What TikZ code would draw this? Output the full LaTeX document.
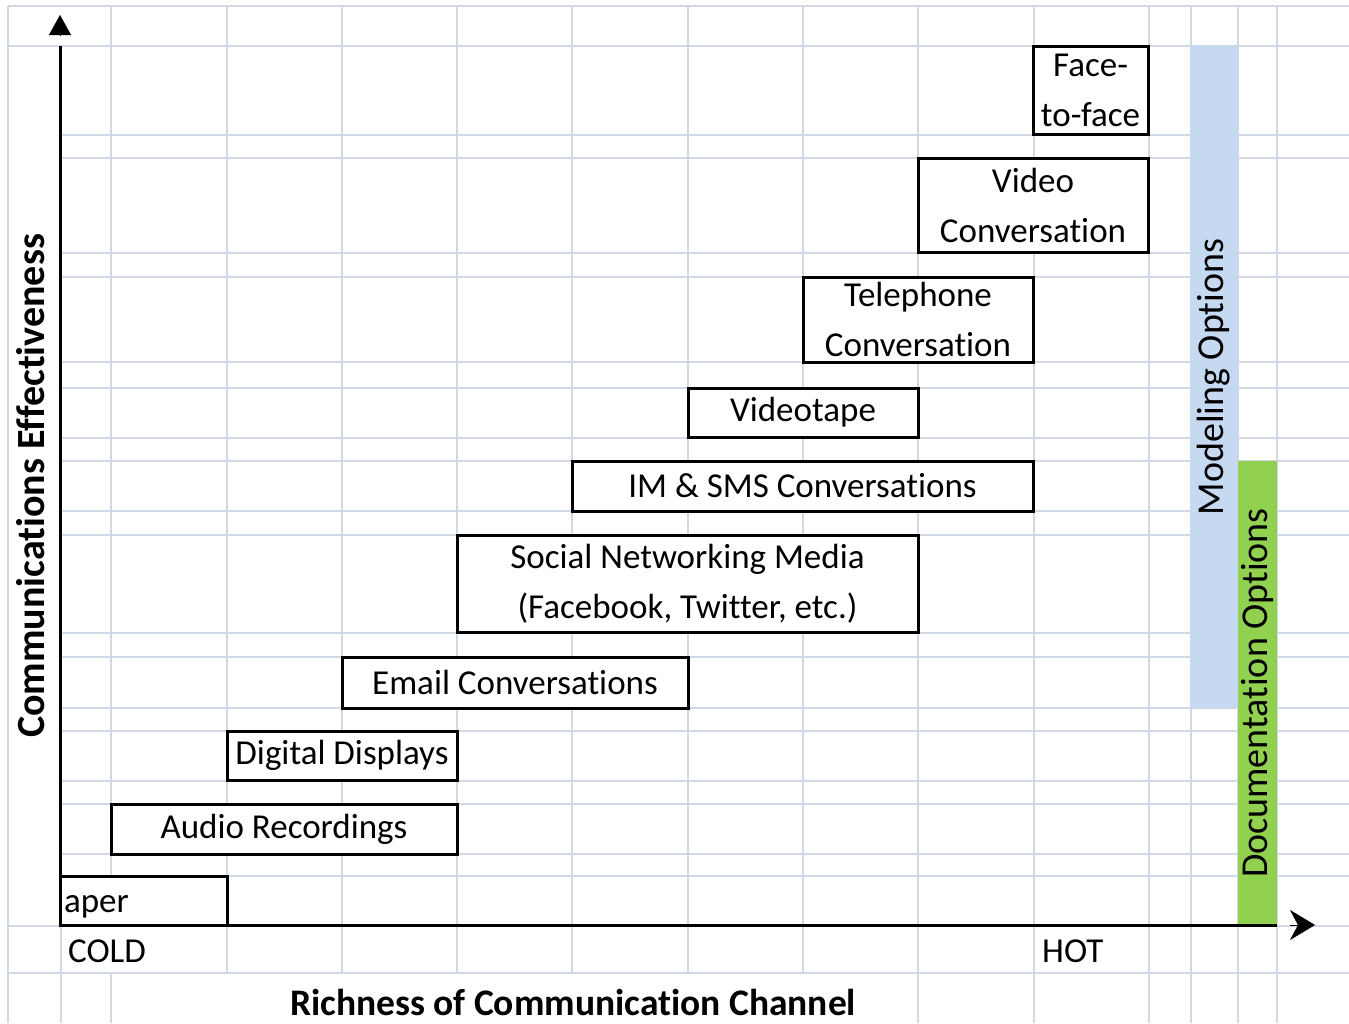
\documentclass[tikz,border=0pt]{standalone}
\usepackage{fontspec}
\setmainfont[Ligatures=NoCommon]{Carlito}
\usepackage{tikz}
\usetikzlibrary{arrows.meta}
\definecolor{gridgray}{HTML}{D0D7E5}
\definecolor{modelblue}{HTML}{C5D9F1}
\definecolor{docgreen}{HTML}{92D050}

\begin{document}
\begin{tikzpicture}[x=1pt,y=-1pt,
	cell/.style={gridgray,line width=1.5pt},
	box/.style={draw,line width=3pt,fill=white,inner sep=0pt,align=center,font=\fontsize{35}{50}\selectfont},
	lbl/.style={inner sep=0pt,font=\fontsize{35}{42}\selectfont},
	side/.style={rotate=90,inner sep=0pt,font=\fontsize{38}{44}\selectfont}]
	\useasboundingbox (0,0) rectangle (1349,1023);
	
	\draw[cell] (8,6) -- (1349,6) (8,46) -- (1349,46) (8,926) -- (1349,926) (8,973) -- (1349,973);
	\foreach \y in {135,158,253,277,362,388,438,461,511,535,633,657,708,731,781,804,854,876}
		\draw[cell] (61,\y) -- (1349,\y);
	\draw[cell] (8,6) -- (8,1023) (61,46) -- (61,1023) (111,6) -- (111,926) (111,973) -- (111,1023);
	\foreach \x in {227,342,457,572,688,803}
		\draw[cell] (\x,6) -- (\x,973);
	\foreach \x in {918,1034,1149,1191,1238,1277}
		\draw[cell] (\x,6) -- (\x,1023);
	
	\node[side,fill=modelblue,minimum width=662pt,minimum height=48pt] (m) at (1214,377) {Modeling Options};
	\node[side,fill=docgreen,minimum width=464pt,minimum height=39pt] (d) at (1257.5,693) {Documentation Options};
	
	\node[box,minimum width=167pt,minimum height=49pt,text width=159pt,align=left,text height=35pt,text depth=12pt] (0) at (143.5,900.5) {aper};
	\node[box,minimum width=346pt,minimum height=50pt] (1) at (284,829) {Audio Recordings};
	\node[box,minimum width=230pt,minimum height=49pt] (2) at (342,755.5) {Digital Displays};
	\node[box,minimum width=346pt,minimum height=51pt] (3) at (515,682.5) {Email Conversations};
	\node[box,minimum width=461pt,minimum height=97pt] (4) at (687.5,583.5) {Social Networking Media\\(Facebook, Twitter, etc.)};
	\node[box,minimum width=461pt,minimum height=50pt] (5) at (802.5,486) {IM \& SMS Conversations};
	\node[box,minimum width=230pt,minimum height=49pt] (6) at (803,412.5) {Videotape};
	\node[box,minimum width=230pt,minimum height=85pt] (7) at (918,319.5) {Telephone\\Conversation};
	\node[box,minimum width=230pt,minimum height=94pt] (8) at (1033,205) {Video\\Conversation};
	\node[box,minimum width=115pt,minimum height=88pt] (9) at (1090.5,90) {Face-\\to-face};
	
	\coordinate (o) at (60,925);
	\coordinate (top) at (60,46);
	\coordinate (right) at (1277,925);
	\draw[line width=3pt] (top) -- (o) -- (right);
	\draw[-{Triangle[width=22pt,length=20pt]}] (60,35) -- (60,15);
	\draw[-{Stealth[width=30pt,length=25pt,inset=8pt]}] (1290,925) -- (1315,925);
	
	\node[lbl,anchor=west] (cold) at (68,951) {COLD};
	\node[lbl,anchor=west] (hot) at (1042,951) {HOT};
	\node[lbl,font=\fontsize{37.5}{44}\selectfont\bfseries] (xl) at (573,1002) {Richness of Communication Channel};
	\node[lbl,rotate=90,font=\fontsize{40}{46}\selectfont\bfseries] (yl) at (31,486) {Communications Effectiveness};
\end{tikzpicture}
\end{document}
